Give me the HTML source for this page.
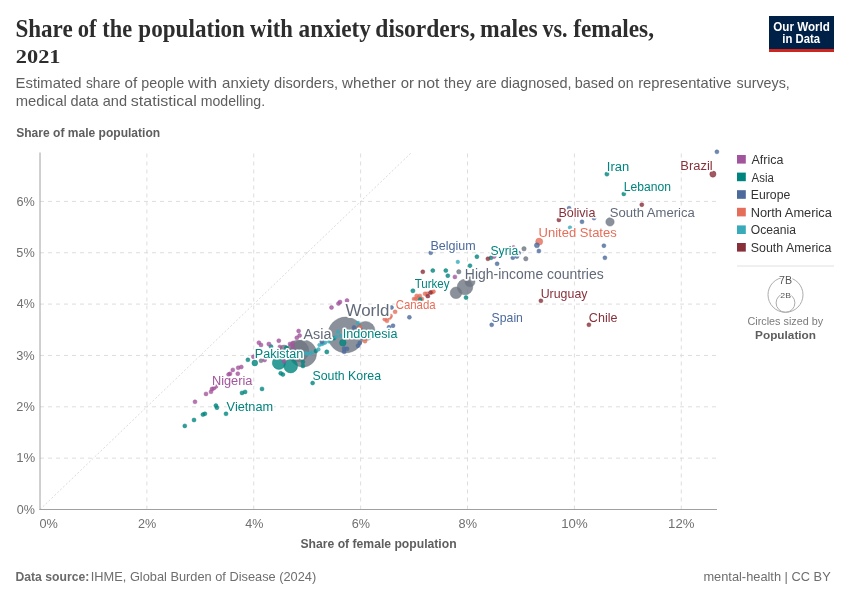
<!DOCTYPE html>
<html lang="en"><head><meta charset="utf-8"><title>Share of the population with anxiety disorders, males vs. females, 2021</title>
<style>
html,body{margin:0;padding:0;background:#fff;}
body{width:850px;height:600px;overflow:hidden;}
svg{display:block;}
svg text{white-space:pre;}
.halo text{paint-order:stroke;stroke:#fff;stroke-width:0.25em;stroke-linejoin:round;}
</style></head><body>
<svg width="850" height="600" viewBox="0 0 850 600">
<rect width="850" height="600" fill="#fff"/>
<rect x="769" y="16" width="65" height="36" fill="#002147"/><rect x="769" y="49" width="65" height="3" fill="#ce261e"/>
<text y="37.0" font-family='"Liberation Serif", serif' font-size="24.7" font-weight="bold" fill="#2d2d2d"><tspan id="title1_0" x="15.40" textLength="57.25" lengthAdjust="spacingAndGlyphs">Share</tspan> <tspan id="title1_1" x="77.66" textLength="18.80" lengthAdjust="spacingAndGlyphs">of</tspan> <tspan id="title1_2" x="102.29" textLength="29.79" lengthAdjust="spacingAndGlyphs">the</tspan> <tspan id="title1_3" x="138.37" textLength="106.59" lengthAdjust="spacingAndGlyphs">population</tspan> <tspan id="title1_4" x="250.02" textLength="42.83" lengthAdjust="spacingAndGlyphs">with</tspan> <tspan id="title1_5" x="298.57" textLength="72.38" lengthAdjust="spacingAndGlyphs">anxiety</tspan> <tspan id="title1_6" x="375.34" textLength="99.94" lengthAdjust="spacingAndGlyphs">disorders,</tspan> <tspan id="title1_7" x="480.02" textLength="57.67" lengthAdjust="spacingAndGlyphs">males</tspan> <tspan id="title1_8" x="542.55" textLength="25.03" lengthAdjust="spacingAndGlyphs">vs.</tspan> <tspan id="title1_9" x="573.15" textLength="80.85" lengthAdjust="spacingAndGlyphs">females,</tspan></text>
<text y="88" font-family='"Liberation Sans", sans-serif' font-size="14.5" font-weight="normal" fill="#5e5e5e"><tspan id="sub1_0" x="15.58" textLength="65.98" lengthAdjust="spacingAndGlyphs">Estimated</tspan> <tspan id="sub1_1" x="85.97" textLength="34.50" lengthAdjust="spacingAndGlyphs">share</tspan> <tspan id="sub1_2" x="124.53" textLength="12.67" lengthAdjust="spacingAndGlyphs">of</tspan> <tspan id="sub1_3" x="141.25" textLength="42.91" lengthAdjust="spacingAndGlyphs">people</tspan> <tspan id="sub1_4" x="188.11" textLength="29.09" lengthAdjust="spacingAndGlyphs">with</tspan> <tspan id="sub1_5" x="222.11" textLength="47.67" lengthAdjust="spacingAndGlyphs">anxiety</tspan> <tspan id="sub1_6" x="274.09" textLength="64.08" lengthAdjust="spacingAndGlyphs">disorders,</tspan> <tspan id="sub1_7" x="342.14" textLength="53.83" lengthAdjust="spacingAndGlyphs">whether</tspan> <tspan id="sub1_8" x="400.68" textLength="13.25" lengthAdjust="spacingAndGlyphs">or</tspan> <tspan id="sub1_9" x="417.44" textLength="22.10" lengthAdjust="spacingAndGlyphs">not</tspan> <tspan id="sub1_10" x="444.11" textLength="27.31" lengthAdjust="spacingAndGlyphs">they</tspan> <tspan id="sub1_11" x="475.96" textLength="20.77" lengthAdjust="spacingAndGlyphs">are</tspan> <tspan id="sub1_12" x="500.79" textLength="70.78" lengthAdjust="spacingAndGlyphs">diagnosed,</tspan> <tspan id="sub1_13" x="574.65" textLength="39.34" lengthAdjust="spacingAndGlyphs">based</tspan> <tspan id="sub1_14" x="617.83" textLength="15.85" lengthAdjust="spacingAndGlyphs">on</tspan> <tspan id="sub1_15" x="638.20" textLength="93.38" lengthAdjust="spacingAndGlyphs">representative</tspan> <tspan id="sub1_16" x="736.60" textLength="53.23" lengthAdjust="spacingAndGlyphs">surveys,</tspan></text>
<text y="106" font-family='"Liberation Sans", sans-serif' font-size="14.5" font-weight="normal" fill="#5e5e5e"><tspan id="sub2_0" x="15.69" textLength="51.00" lengthAdjust="spacingAndGlyphs">medical</tspan> <tspan id="sub2_1" x="70.44" textLength="28.26" lengthAdjust="spacingAndGlyphs">data</tspan> <tspan id="sub2_2" x="102.77" textLength="24.23" lengthAdjust="spacingAndGlyphs">and</tspan> <tspan id="sub2_3" x="130.81" textLength="66.05" lengthAdjust="spacingAndGlyphs">statistical</tspan> <tspan id="sub2_4" x="200.68" textLength="64.39" lengthAdjust="spacingAndGlyphs">modelling.</tspan></text>
<text id="title2" x="15.80" y="62.9" font-family='"Liberation Serif", serif' font-size="18.6" font-weight="bold" fill="#2d2d2d" textLength="44.66" lengthAdjust="spacingAndGlyphs">2021</text>
<text id="logo1" x="773.29" y="30.5" font-family='"Liberation Sans", sans-serif' font-size="12" font-weight="bold" fill="#fff" textLength="56.63" lengthAdjust="spacingAndGlyphs">Our World</text>
<text id="logo2" x="782.31" y="42.5" font-family='"Liberation Sans", sans-serif' font-size="12" font-weight="bold" fill="#fff" textLength="37.81" lengthAdjust="spacingAndGlyphs">in Data</text>
<text id="ylab" x="16.19" y="136.5" font-family='"Liberation Sans", sans-serif' font-size="12" font-weight="bold" fill="#5e5e5e" textLength="143.94" lengthAdjust="spacingAndGlyphs">Share of male population</text>
<text id="yt0" x="16.71" y="513.8" font-family='"Liberation Sans", sans-serif' font-size="12" font-weight="normal" fill="#707070" textLength="18.14" lengthAdjust="spacingAndGlyphs">0%</text>
<text id="yt1" x="16.19" y="462.4" font-family='"Liberation Sans", sans-serif' font-size="12" font-weight="normal" fill="#707070" textLength="19.04" lengthAdjust="spacingAndGlyphs">1%</text>
<text id="yt2" x="16.32" y="411.1" font-family='"Liberation Sans", sans-serif' font-size="12" font-weight="normal" fill="#707070" textLength="18.48" lengthAdjust="spacingAndGlyphs">2%</text>
<text id="yt3" x="16.25" y="359.8" font-family='"Liberation Sans", sans-serif' font-size="12" font-weight="normal" fill="#707070" textLength="18.50" lengthAdjust="spacingAndGlyphs">3%</text>
<text id="yt4" x="16.82" y="308.4" font-family='"Liberation Sans", sans-serif' font-size="12" font-weight="normal" fill="#707070" textLength="17.91" lengthAdjust="spacingAndGlyphs">4%</text>
<text id="yt5" x="16.38" y="257.1" font-family='"Liberation Sans", sans-serif' font-size="12" font-weight="normal" fill="#707070" textLength="18.35" lengthAdjust="spacingAndGlyphs">5%</text>
<text id="yt6" x="16.45" y="205.7" font-family='"Liberation Sans", sans-serif' font-size="12" font-weight="normal" fill="#707070" textLength="18.31" lengthAdjust="spacingAndGlyphs">6%</text>
<text id="xt0" x="39.46" y="527.6" font-family='"Liberation Sans", sans-serif' font-size="12" font-weight="normal" fill="#707070" textLength="18.39" lengthAdjust="spacingAndGlyphs">0%</text>
<text id="xt2" x="138.05" y="527.6" font-family='"Liberation Sans", sans-serif' font-size="12" font-weight="normal" fill="#707070" textLength="18.27" lengthAdjust="spacingAndGlyphs">2%</text>
<text id="xt4" x="245.16" y="527.6" font-family='"Liberation Sans", sans-serif' font-size="12" font-weight="normal" fill="#707070" textLength="18.13" lengthAdjust="spacingAndGlyphs">4%</text>
<text id="xt6" x="351.71" y="527.6" font-family='"Liberation Sans", sans-serif' font-size="12" font-weight="normal" fill="#707070" textLength="18.28" lengthAdjust="spacingAndGlyphs">6%</text>
<text id="xt8" x="458.58" y="527.6" font-family='"Liberation Sans", sans-serif' font-size="12" font-weight="normal" fill="#707070" textLength="18.41" lengthAdjust="spacingAndGlyphs">8%</text>
<text id="xt10" x="561.31" y="527.6" font-family='"Liberation Sans", sans-serif' font-size="12" font-weight="normal" fill="#707070" textLength="26.38" lengthAdjust="spacingAndGlyphs">10%</text>
<text id="xt12" x="668.11" y="527.6" font-family='"Liberation Sans", sans-serif' font-size="12" font-weight="normal" fill="#707070" textLength="26.33" lengthAdjust="spacingAndGlyphs">12%</text>
<text id="xlab" x="300.48" y="548.2" font-family='"Liberation Sans", sans-serif' font-size="12" font-weight="bold" fill="#5e5e5e" textLength="156.13" lengthAdjust="spacingAndGlyphs">Share of female population</text>
<g stroke="#dddddd" stroke-width="1" stroke-dasharray="4,4" fill="none">
<line x1="40" y1="458.15" x2="717" y2="458.15"/>
<line x1="40" y1="406.80" x2="717" y2="406.80"/>
<line x1="40" y1="355.45" x2="717" y2="355.45"/>
<line x1="40" y1="304.10" x2="717" y2="304.10"/>
<line x1="40" y1="252.75" x2="717" y2="252.75"/>
<line x1="40" y1="201.40" x2="717" y2="201.40"/>
<line x1="146.88" y1="509.5" x2="146.88" y2="152.5"/>
<line x1="253.76" y1="509.5" x2="253.76" y2="152.5"/>
<line x1="360.64" y1="509.5" x2="360.64" y2="152.5"/>
<line x1="467.52" y1="509.5" x2="467.52" y2="152.5"/>
<line x1="574.40" y1="509.5" x2="574.40" y2="152.5"/>
<line x1="681.28" y1="509.5" x2="681.28" y2="152.5"/>
</g>
<line x1="40" y1="509.5" x2="411.5" y2="152.5" stroke="#d0d0d0" stroke-width="0.8" stroke-dasharray="2,2"/>
<line x1="40" y1="152.5" x2="40" y2="510" stroke="#a0a0a0" stroke-width="1"/>
<line x1="39.5" y1="509.5" x2="717" y2="509.5" stroke="#a0a0a0" stroke-width="1"/>
<g stroke-width="0.5">
<circle cx="345.7" cy="335" r="17.9" fill="#6e7581" fill-opacity="0.8" stroke="#6e7581" stroke-opacity="0.9"/>
<circle cx="365.5" cy="331" r="9.6" fill="#6e7581" fill-opacity="0.8" stroke="#6e7581" stroke-opacity="0.9"/>
<circle cx="303" cy="353.5" r="13.6" fill="#6e7581" fill-opacity="0.8" stroke="#6e7581" stroke-opacity="0.9"/>
<circle cx="298" cy="351" r="10.8" fill="#6e7581" fill-opacity="0.8" stroke="#6e7581" stroke-opacity="0.9"/>
<circle cx="284" cy="349.8" r="4.7" fill="#6e7581" fill-opacity="0.8" stroke="#6e7581" stroke-opacity="0.9"/>
<circle cx="465" cy="287" r="7.8" fill="#6e7581" fill-opacity="0.8" stroke="#6e7581" stroke-opacity="0.9"/>
<circle cx="456" cy="292.8" r="5.8" fill="#6e7581" fill-opacity="0.8" stroke="#6e7581" stroke-opacity="0.9"/>
<circle cx="470" cy="281.8" r="5.0" fill="#6e7581" fill-opacity="0.8" stroke="#6e7581" stroke-opacity="0.9"/>
<circle cx="610" cy="221.9" r="4.2" fill="#6e7581" fill-opacity="0.8" stroke="#6e7581" stroke-opacity="0.9"/>
<circle cx="278.9" cy="362.8" r="6.6" fill="#00847e" fill-opacity="0.8" stroke="#00847e" stroke-opacity="0.9"/>
<circle cx="290.7" cy="366" r="6.9" fill="#00847e" fill-opacity="0.8" stroke="#00847e" stroke-opacity="0.9"/>
<circle cx="342.8" cy="342.8" r="3.3" fill="#00847e" fill-opacity="0.8" stroke="#00847e" stroke-opacity="0.9"/>
<circle cx="254.8" cy="363" r="2.9" fill="#00847e" fill-opacity="0.8" stroke="#00847e" stroke-opacity="0.9"/>
<circle cx="539.2" cy="241.6" r="3.5" fill="#e56e5a" fill-opacity="0.8" stroke="#e56e5a" stroke-opacity="0.9"/>
<circle cx="712.9" cy="174.1" r="3.1" fill="#883039" fill-opacity="0.8" stroke="#883039" stroke-opacity="0.9"/>
<circle cx="536.9" cy="245.3" r="2.5" fill="#4c6a9c" fill-opacity="0.8" stroke="#4c6a9c" stroke-opacity="0.9"/>
<circle cx="458.8" cy="271.8" r="2.2" fill="#6e7581" fill-opacity="0.8" stroke="#6e7581" stroke-opacity="0.9"/>
<circle cx="524" cy="248.8" r="2.2" fill="#6e7581" fill-opacity="0.8" stroke="#6e7581" stroke-opacity="0.9"/>
<circle cx="525.8" cy="258.8" r="2.2" fill="#6e7581" fill-opacity="0.8" stroke="#6e7581" stroke-opacity="0.9"/>
<circle cx="261" cy="360.8" r="2.0" fill="#6e7581" fill-opacity="0.8" stroke="#6e7581" stroke-opacity="0.9"/>
<circle cx="184.8" cy="425.9" r="2.0" fill="#00847e" fill-opacity="0.8" stroke="#00847e" stroke-opacity="0.9"/>
<circle cx="194" cy="420" r="2.0" fill="#00847e" fill-opacity="0.8" stroke="#00847e" stroke-opacity="0.9"/>
<circle cx="202.9" cy="414.6" r="2.0" fill="#00847e" fill-opacity="0.8" stroke="#00847e" stroke-opacity="0.9"/>
<circle cx="204.9" cy="413.8" r="2.0" fill="#00847e" fill-opacity="0.8" stroke="#00847e" stroke-opacity="0.9"/>
<circle cx="215.9" cy="405.6" r="2.0" fill="#00847e" fill-opacity="0.8" stroke="#00847e" stroke-opacity="0.9"/>
<circle cx="216.9" cy="407.7" r="2.0" fill="#00847e" fill-opacity="0.8" stroke="#00847e" stroke-opacity="0.9"/>
<circle cx="226" cy="413.8" r="2.0" fill="#00847e" fill-opacity="0.8" stroke="#00847e" stroke-opacity="0.9"/>
<circle cx="242" cy="392.9" r="2.0" fill="#00847e" fill-opacity="0.8" stroke="#00847e" stroke-opacity="0.9"/>
<circle cx="245.1" cy="391.9" r="2.0" fill="#00847e" fill-opacity="0.8" stroke="#00847e" stroke-opacity="0.9"/>
<circle cx="262" cy="388.9" r="2.0" fill="#00847e" fill-opacity="0.8" stroke="#00847e" stroke-opacity="0.9"/>
<circle cx="280.7" cy="373.3" r="2.0" fill="#00847e" fill-opacity="0.8" stroke="#00847e" stroke-opacity="0.9"/>
<circle cx="282.9" cy="374.5" r="2.0" fill="#00847e" fill-opacity="0.8" stroke="#00847e" stroke-opacity="0.9"/>
<circle cx="247.9" cy="359.8" r="2.0" fill="#00847e" fill-opacity="0.8" stroke="#00847e" stroke-opacity="0.9"/>
<circle cx="312.6" cy="383" r="2.0" fill="#00847e" fill-opacity="0.8" stroke="#00847e" stroke-opacity="0.9"/>
<circle cx="326.8" cy="351.9" r="2.1" fill="#00847e" fill-opacity="0.8" stroke="#00847e" stroke-opacity="0.9"/>
<circle cx="412.9" cy="290.8" r="2.1" fill="#00847e" fill-opacity="0.8" stroke="#00847e" stroke-opacity="0.9"/>
<circle cx="432.8" cy="270.6" r="2.0" fill="#00847e" fill-opacity="0.8" stroke="#00847e" stroke-opacity="0.9"/>
<circle cx="445.8" cy="270.6" r="2.0" fill="#00847e" fill-opacity="0.8" stroke="#00847e" stroke-opacity="0.9"/>
<circle cx="447.8" cy="275.7" r="2.0" fill="#00847e" fill-opacity="0.8" stroke="#00847e" stroke-opacity="0.9"/>
<circle cx="466" cy="297.6" r="2.0" fill="#00847e" fill-opacity="0.8" stroke="#00847e" stroke-opacity="0.9"/>
<circle cx="470" cy="265.7" r="2.0" fill="#00847e" fill-opacity="0.8" stroke="#00847e" stroke-opacity="0.9"/>
<circle cx="476.9" cy="256.7" r="2.0" fill="#00847e" fill-opacity="0.8" stroke="#00847e" stroke-opacity="0.9"/>
<circle cx="491" cy="257.8" r="2.0" fill="#00847e" fill-opacity="0.8" stroke="#00847e" stroke-opacity="0.9"/>
<circle cx="606.9" cy="174.1" r="2.1" fill="#00847e" fill-opacity="0.8" stroke="#00847e" stroke-opacity="0.9"/>
<circle cx="623.8" cy="193.9" r="2.0" fill="#00847e" fill-opacity="0.8" stroke="#00847e" stroke-opacity="0.9"/>
<circle cx="302.9" cy="362" r="2.0" fill="#00847e" fill-opacity="0.8" stroke="#00847e" stroke-opacity="0.9"/>
<circle cx="302.9" cy="366" r="2.0" fill="#00847e" fill-opacity="0.8" stroke="#00847e" stroke-opacity="0.9"/>
<circle cx="315.9" cy="350.9" r="2.0" fill="#00847e" fill-opacity="0.8" stroke="#00847e" stroke-opacity="0.9"/>
<circle cx="271" cy="346.6" r="2.0" fill="#00847e" fill-opacity="0.8" stroke="#00847e" stroke-opacity="0.9"/>
<circle cx="286.4" cy="347.8" r="2.0" fill="#00847e" fill-opacity="0.8" stroke="#00847e" stroke-opacity="0.9"/>
<circle cx="333.8" cy="338.2" r="2.0" fill="#00847e" fill-opacity="0.8" stroke="#00847e" stroke-opacity="0.9"/>
<circle cx="195" cy="401.8" r="2.0" fill="#a2559c" fill-opacity="0.8" stroke="#a2559c" stroke-opacity="0.9"/>
<circle cx="206" cy="393.9" r="2.0" fill="#a2559c" fill-opacity="0.8" stroke="#a2559c" stroke-opacity="0.9"/>
<circle cx="211" cy="391.8" r="2.0" fill="#a2559c" fill-opacity="0.8" stroke="#a2559c" stroke-opacity="0.9"/>
<circle cx="212" cy="389" r="2.0" fill="#a2559c" fill-opacity="0.8" stroke="#a2559c" stroke-opacity="0.9"/>
<circle cx="213.8" cy="388.2" r="2.0" fill="#a2559c" fill-opacity="0.8" stroke="#a2559c" stroke-opacity="0.9"/>
<circle cx="215.9" cy="386.5" r="2.0" fill="#a2559c" fill-opacity="0.8" stroke="#a2559c" stroke-opacity="0.9"/>
<circle cx="228.6" cy="374.5" r="2.0" fill="#a2559c" fill-opacity="0.8" stroke="#a2559c" stroke-opacity="0.9"/>
<circle cx="230" cy="373.8" r="2.0" fill="#a2559c" fill-opacity="0.8" stroke="#a2559c" stroke-opacity="0.9"/>
<circle cx="232.8" cy="369.9" r="2.0" fill="#a2559c" fill-opacity="0.8" stroke="#a2559c" stroke-opacity="0.9"/>
<circle cx="237.8" cy="373.7" r="2.0" fill="#a2559c" fill-opacity="0.8" stroke="#a2559c" stroke-opacity="0.9"/>
<circle cx="238.2" cy="367.8" r="2.0" fill="#a2559c" fill-opacity="0.8" stroke="#a2559c" stroke-opacity="0.9"/>
<circle cx="241.3" cy="367" r="2.0" fill="#a2559c" fill-opacity="0.8" stroke="#a2559c" stroke-opacity="0.9"/>
<circle cx="264.6" cy="360" r="2.0" fill="#a2559c" fill-opacity="0.8" stroke="#a2559c" stroke-opacity="0.9"/>
<circle cx="253.4" cy="356.8" r="2.0" fill="#a2559c" fill-opacity="0.8" stroke="#a2559c" stroke-opacity="0.9"/>
<circle cx="258.9" cy="342.7" r="2.0" fill="#a2559c" fill-opacity="0.8" stroke="#a2559c" stroke-opacity="0.9"/>
<circle cx="261" cy="345" r="2.0" fill="#a2559c" fill-opacity="0.8" stroke="#a2559c" stroke-opacity="0.9"/>
<circle cx="268.9" cy="344.1" r="2.1" fill="#a2559c" fill-opacity="0.8" stroke="#a2559c" stroke-opacity="0.9"/>
<circle cx="278.8" cy="340.7" r="2.0" fill="#a2559c" fill-opacity="0.8" stroke="#a2559c" stroke-opacity="0.9"/>
<circle cx="279.9" cy="346.9" r="2.0" fill="#a2559c" fill-opacity="0.8" stroke="#a2559c" stroke-opacity="0.9"/>
<circle cx="290" cy="343.9" r="2.0" fill="#a2559c" fill-opacity="0.8" stroke="#a2559c" stroke-opacity="0.9"/>
<circle cx="292.9" cy="343" r="2.0" fill="#a2559c" fill-opacity="0.8" stroke="#a2559c" stroke-opacity="0.9"/>
<circle cx="292.9" cy="346.9" r="2.0" fill="#a2559c" fill-opacity="0.8" stroke="#a2559c" stroke-opacity="0.9"/>
<circle cx="296.8" cy="337.8" r="2.0" fill="#a2559c" fill-opacity="0.8" stroke="#a2559c" stroke-opacity="0.9"/>
<circle cx="284.1" cy="361.3" r="2.0" fill="#a2559c" fill-opacity="0.8" stroke="#a2559c" stroke-opacity="0.9"/>
<circle cx="298.6" cy="331" r="2.0" fill="#a2559c" fill-opacity="0.8" stroke="#a2559c" stroke-opacity="0.9"/>
<circle cx="299.6" cy="335.6" r="2.0" fill="#a2559c" fill-opacity="0.8" stroke="#a2559c" stroke-opacity="0.9"/>
<circle cx="331.5" cy="307.5" r="2.0" fill="#a2559c" fill-opacity="0.8" stroke="#a2559c" stroke-opacity="0.9"/>
<circle cx="338.5" cy="303.5" r="2.0" fill="#a2559c" fill-opacity="0.8" stroke="#a2559c" stroke-opacity="0.9"/>
<circle cx="340" cy="302" r="2.0" fill="#a2559c" fill-opacity="0.8" stroke="#a2559c" stroke-opacity="0.9"/>
<circle cx="347" cy="300.5" r="2.0" fill="#a2559c" fill-opacity="0.8" stroke="#a2559c" stroke-opacity="0.9"/>
<circle cx="454.9" cy="276.9" r="2.0" fill="#a2559c" fill-opacity="0.8" stroke="#a2559c" stroke-opacity="0.9"/>
<circle cx="494.1" cy="256.6" r="2.0" fill="#a2559c" fill-opacity="0.8" stroke="#a2559c" stroke-opacity="0.9"/>
<circle cx="513.5" cy="246.8" r="1.4" fill="#a2559c" fill-opacity="0.8" stroke="#a2559c" stroke-opacity="0.9"/>
<circle cx="457.8" cy="261.9" r="1.8" fill="#38aaba" fill-opacity="0.8" stroke="#38aaba" stroke-opacity="0.9"/>
<circle cx="570" cy="227.5" r="1.8" fill="#38aaba" fill-opacity="0.8" stroke="#38aaba" stroke-opacity="0.9"/>
<circle cx="358" cy="322.9" r="1.8" fill="#38aaba" fill-opacity="0.8" stroke="#38aaba" stroke-opacity="0.9"/>
<circle cx="338" cy="331.7" r="1.8" fill="#38aaba" fill-opacity="0.8" stroke="#38aaba" stroke-opacity="0.9"/>
<circle cx="335.9" cy="336.7" r="1.8" fill="#38aaba" fill-opacity="0.8" stroke="#38aaba" stroke-opacity="0.9"/>
<circle cx="340.7" cy="335.8" r="1.8" fill="#38aaba" fill-opacity="0.8" stroke="#38aaba" stroke-opacity="0.9"/>
<circle cx="305.9" cy="353.2" r="1.8" fill="#38aaba" fill-opacity="0.8" stroke="#38aaba" stroke-opacity="0.9"/>
<circle cx="307.6" cy="353.8" r="1.8" fill="#38aaba" fill-opacity="0.8" stroke="#38aaba" stroke-opacity="0.9"/>
<circle cx="310.3" cy="353.2" r="1.8" fill="#38aaba" fill-opacity="0.8" stroke="#38aaba" stroke-opacity="0.9"/>
<circle cx="311.8" cy="352.6" r="1.8" fill="#38aaba" fill-opacity="0.8" stroke="#38aaba" stroke-opacity="0.9"/>
<circle cx="318.5" cy="349.4" r="1.8" fill="#38aaba" fill-opacity="0.8" stroke="#38aaba" stroke-opacity="0.9"/>
<circle cx="319.4" cy="345" r="1.8" fill="#38aaba" fill-opacity="0.8" stroke="#38aaba" stroke-opacity="0.9"/>
<circle cx="321.8" cy="344.1" r="1.8" fill="#38aaba" fill-opacity="0.8" stroke="#38aaba" stroke-opacity="0.9"/>
<circle cx="323.2" cy="343.5" r="1.8" fill="#38aaba" fill-opacity="0.8" stroke="#38aaba" stroke-opacity="0.9"/>
<circle cx="325.3" cy="342.6" r="1.8" fill="#38aaba" fill-opacity="0.8" stroke="#38aaba" stroke-opacity="0.9"/>
<circle cx="329.1" cy="341.5" r="1.8" fill="#38aaba" fill-opacity="0.8" stroke="#38aaba" stroke-opacity="0.9"/>
<circle cx="430.7" cy="252.8" r="2.0" fill="#4c6a9c" fill-opacity="0.8" stroke="#4c6a9c" stroke-opacity="0.9"/>
<circle cx="497.1" cy="263.8" r="2.0" fill="#4c6a9c" fill-opacity="0.8" stroke="#4c6a9c" stroke-opacity="0.9"/>
<circle cx="512.8" cy="257.7" r="2.0" fill="#4c6a9c" fill-opacity="0.8" stroke="#4c6a9c" stroke-opacity="0.9"/>
<circle cx="516.9" cy="256.6" r="2.0" fill="#4c6a9c" fill-opacity="0.8" stroke="#4c6a9c" stroke-opacity="0.9"/>
<circle cx="518.6" cy="253" r="2.0" fill="#4c6a9c" fill-opacity="0.8" stroke="#4c6a9c" stroke-opacity="0.9"/>
<circle cx="538.9" cy="251" r="2.0" fill="#4c6a9c" fill-opacity="0.8" stroke="#4c6a9c" stroke-opacity="0.9"/>
<circle cx="569.1" cy="208.2" r="2.0" fill="#4c6a9c" fill-opacity="0.8" stroke="#4c6a9c" stroke-opacity="0.9"/>
<circle cx="582" cy="221.8" r="2.0" fill="#4c6a9c" fill-opacity="0.8" stroke="#4c6a9c" stroke-opacity="0.9"/>
<circle cx="594" cy="218.1" r="2.0" fill="#4c6a9c" fill-opacity="0.8" stroke="#4c6a9c" stroke-opacity="0.9"/>
<circle cx="603.9" cy="245.7" r="2.0" fill="#4c6a9c" fill-opacity="0.8" stroke="#4c6a9c" stroke-opacity="0.9"/>
<circle cx="604.9" cy="257.8" r="2.0" fill="#4c6a9c" fill-opacity="0.8" stroke="#4c6a9c" stroke-opacity="0.9"/>
<circle cx="716.9" cy="151.8" r="2.0" fill="#4c6a9c" fill-opacity="0.8" stroke="#4c6a9c" stroke-opacity="0.9"/>
<circle cx="491.7" cy="324.8" r="2.0" fill="#4c6a9c" fill-opacity="0.8" stroke="#4c6a9c" stroke-opacity="0.9"/>
<circle cx="409.4" cy="317.3" r="2.0" fill="#4c6a9c" fill-opacity="0.8" stroke="#4c6a9c" stroke-opacity="0.9"/>
<circle cx="393" cy="325.7" r="2.0" fill="#4c6a9c" fill-opacity="0.8" stroke="#4c6a9c" stroke-opacity="0.9"/>
<circle cx="389" cy="327.3" r="2.0" fill="#4c6a9c" fill-opacity="0.8" stroke="#4c6a9c" stroke-opacity="0.9"/>
<circle cx="354" cy="327.4" r="2.0" fill="#4c6a9c" fill-opacity="0.8" stroke="#4c6a9c" stroke-opacity="0.9"/>
<circle cx="359.7" cy="343" r="2.0" fill="#4c6a9c" fill-opacity="0.8" stroke="#4c6a9c" stroke-opacity="0.9"/>
<circle cx="358" cy="345.7" r="2.0" fill="#4c6a9c" fill-opacity="0.8" stroke="#4c6a9c" stroke-opacity="0.9"/>
<circle cx="344.1" cy="348.6" r="2.0" fill="#4c6a9c" fill-opacity="0.8" stroke="#4c6a9c" stroke-opacity="0.9"/>
<circle cx="347.1" cy="348.8" r="2.0" fill="#4c6a9c" fill-opacity="0.8" stroke="#4c6a9c" stroke-opacity="0.9"/>
<circle cx="344.1" cy="351.8" r="2.0" fill="#4c6a9c" fill-opacity="0.8" stroke="#4c6a9c" stroke-opacity="0.9"/>
<circle cx="321.8" cy="341.7" r="2.0" fill="#4c6a9c" fill-opacity="0.8" stroke="#4c6a9c" stroke-opacity="0.9"/>
<circle cx="391.5" cy="307.5" r="2.0" fill="#4c6a9c" fill-opacity="0.8" stroke="#4c6a9c" stroke-opacity="0.9"/>
<circle cx="416.6" cy="295.9" r="2.0" fill="#e56e5a" fill-opacity="0.8" stroke="#e56e5a" stroke-opacity="0.9"/>
<circle cx="419.8" cy="295.9" r="2.0" fill="#e56e5a" fill-opacity="0.8" stroke="#e56e5a" stroke-opacity="0.9"/>
<circle cx="418.2" cy="298" r="2.0" fill="#e56e5a" fill-opacity="0.8" stroke="#e56e5a" stroke-opacity="0.9"/>
<circle cx="414" cy="299" r="2.0" fill="#e56e5a" fill-opacity="0.8" stroke="#e56e5a" stroke-opacity="0.9"/>
<circle cx="415.5" cy="299.6" r="2.0" fill="#e56e5a" fill-opacity="0.8" stroke="#e56e5a" stroke-opacity="0.9"/>
<circle cx="421.9" cy="299" r="2.0" fill="#e56e5a" fill-opacity="0.8" stroke="#e56e5a" stroke-opacity="0.9"/>
<circle cx="425" cy="293.8" r="2.0" fill="#e56e5a" fill-opacity="0.8" stroke="#e56e5a" stroke-opacity="0.9"/>
<circle cx="427.2" cy="293.8" r="2.0" fill="#e56e5a" fill-opacity="0.8" stroke="#e56e5a" stroke-opacity="0.9"/>
<circle cx="433.5" cy="291.6" r="2.0" fill="#e56e5a" fill-opacity="0.8" stroke="#e56e5a" stroke-opacity="0.9"/>
<circle cx="432" cy="292.2" r="2.0" fill="#e56e5a" fill-opacity="0.8" stroke="#e56e5a" stroke-opacity="0.9"/>
<circle cx="395.1" cy="311.8" r="2.0" fill="#e56e5a" fill-opacity="0.8" stroke="#e56e5a" stroke-opacity="0.9"/>
<circle cx="390.6" cy="316" r="2.0" fill="#e56e5a" fill-opacity="0.8" stroke="#e56e5a" stroke-opacity="0.9"/>
<circle cx="389.6" cy="317.6" r="2.0" fill="#e56e5a" fill-opacity="0.8" stroke="#e56e5a" stroke-opacity="0.9"/>
<circle cx="387" cy="320.8" r="2.0" fill="#e56e5a" fill-opacity="0.8" stroke="#e56e5a" stroke-opacity="0.9"/>
<circle cx="384.8" cy="319.2" r="2.0" fill="#e56e5a" fill-opacity="0.8" stroke="#e56e5a" stroke-opacity="0.9"/>
<circle cx="359.9" cy="327.2" r="2.0" fill="#e56e5a" fill-opacity="0.8" stroke="#e56e5a" stroke-opacity="0.9"/>
<circle cx="365" cy="341.2" r="2.0" fill="#e56e5a" fill-opacity="0.8" stroke="#e56e5a" stroke-opacity="0.9"/>
<circle cx="641.8" cy="204.7" r="2.0" fill="#883039" fill-opacity="0.8" stroke="#883039" stroke-opacity="0.9"/>
<circle cx="558.9" cy="219.9" r="2.0" fill="#883039" fill-opacity="0.8" stroke="#883039" stroke-opacity="0.9"/>
<circle cx="487.9" cy="258.8" r="2.0" fill="#883039" fill-opacity="0.8" stroke="#883039" stroke-opacity="0.9"/>
<circle cx="422.8" cy="271.8" r="2.0" fill="#883039" fill-opacity="0.8" stroke="#883039" stroke-opacity="0.9"/>
<circle cx="430.5" cy="292.6" r="2.0" fill="#883039" fill-opacity="0.8" stroke="#883039" stroke-opacity="0.9"/>
<circle cx="427.8" cy="296.3" r="2.0" fill="#883039" fill-opacity="0.8" stroke="#883039" stroke-opacity="0.9"/>
<circle cx="540.9" cy="300.8" r="2.0" fill="#883039" fill-opacity="0.8" stroke="#883039" stroke-opacity="0.9"/>
<circle cx="588.9" cy="324.8" r="2.0" fill="#883039" fill-opacity="0.8" stroke="#883039" stroke-opacity="0.9"/>
<circle cx="420.1" cy="299.4" r="2.0" fill="#00847e" fill-opacity="0.8" stroke="#00847e" stroke-opacity="0.9"/>
</g>
<g class="halo">
<text id="lab_Iran" x="606.89" y="170.6" font-family='"Liberation Sans", sans-serif' font-size="12.3" font-weight="normal" fill="#00847e" textLength="22.36" lengthAdjust="spacingAndGlyphs">Iran</text>
<text id="lab_Lebanon" x="623.78" y="191.2" font-family='"Liberation Sans", sans-serif' font-size="12.3" font-weight="normal" fill="#00847e" textLength="47.14" lengthAdjust="spacingAndGlyphs">Lebanon</text>
<text id="lab_Brazil" x="680.37" y="169.7" font-family='"Liberation Sans", sans-serif' font-size="12.3" font-weight="normal" fill="#883039" textLength="32.33" lengthAdjust="spacingAndGlyphs">Brazil</text>
<text id="lab_South_America" x="609.78" y="216.8" font-family='"Liberation Sans", sans-serif' font-size="12.5" font-weight="normal" fill="#626a79" textLength="85.07" lengthAdjust="spacingAndGlyphs">South America</text>
<text id="lab_Bolivia" x="558.45" y="217.0" font-family='"Liberation Sans", sans-serif' font-size="12.1" font-weight="normal" fill="#883039" textLength="36.96" lengthAdjust="spacingAndGlyphs">Bolivia</text>
<text id="lab_United_States" x="538.57" y="236.9" font-family='"Liberation Sans", sans-serif' font-size="12.3" font-weight="normal" fill="#e56e5a" textLength="78.19" lengthAdjust="spacingAndGlyphs">United States</text>
<text id="lab_Belgium" x="430.46" y="249.8" font-family='"Liberation Sans", sans-serif' font-size="12.1" font-weight="normal" fill="#4c6a9c" textLength="45.31" lengthAdjust="spacingAndGlyphs">Belgium</text>
<text id="lab_Syria" x="490.45" y="254.6" font-family='"Liberation Sans", sans-serif' font-size="12.3" font-weight="normal" fill="#00847e" textLength="27.73" lengthAdjust="spacingAndGlyphs">Syria</text>
<text id="lab_Turkey" x="414.74" y="288.1" font-family='"Liberation Sans", sans-serif' font-size="12.3" font-weight="normal" fill="#00847e" textLength="34.81" lengthAdjust="spacingAndGlyphs">Turkey</text>
<text id="lab_High_income_countries" x="464.84" y="278.9" font-family='"Liberation Sans", sans-serif' font-size="14" font-weight="normal" fill="#626a79" textLength="138.81" lengthAdjust="spacingAndGlyphs">High-income countries</text>
<text id="lab_Canada" x="395.63" y="308.6" font-family='"Liberation Sans", sans-serif' font-size="12.1" font-weight="normal" fill="#e56e5a" textLength="40.06" lengthAdjust="spacingAndGlyphs">Canada</text>
<text id="lab_World" x="345.51" y="315.6" font-family='"Liberation Sans", sans-serif' font-size="16.2" font-weight="normal" fill="#626a79" textLength="43.91" lengthAdjust="spacingAndGlyphs">World</text>
<text id="lab_Indonesia" x="342.84" y="338.2" font-family='"Liberation Sans", sans-serif' font-size="12.3" font-weight="normal" fill="#00847e" textLength="54.56" lengthAdjust="spacingAndGlyphs">Indonesia</text>
<text id="lab_Asia" x="303.53" y="338.6" font-family='"Liberation Sans", sans-serif' font-size="14" font-weight="normal" fill="#626a79" textLength="27.90" lengthAdjust="spacingAndGlyphs">Asia</text>
<text id="lab_Pakistan" x="254.85" y="358.4" font-family='"Liberation Sans", sans-serif' font-size="12.3" font-weight="normal" fill="#00847e" textLength="48.36" lengthAdjust="spacingAndGlyphs">Pakistan</text>
<text id="lab_South_Korea" x="312.40" y="380" font-family='"Liberation Sans", sans-serif' font-size="12.1" font-weight="normal" fill="#00847e" textLength="68.72" lengthAdjust="spacingAndGlyphs">South Korea</text>
<text id="lab_Nigeria" x="211.92" y="384.7" font-family='"Liberation Sans", sans-serif' font-size="12.3" font-weight="normal" fill="#a2559c" textLength="40.47" lengthAdjust="spacingAndGlyphs">Nigeria</text>
<text id="lab_Vietnam" x="226.63" y="410.5" font-family='"Liberation Sans", sans-serif' font-size="12.1" font-weight="normal" fill="#00847e" textLength="46.54" lengthAdjust="spacingAndGlyphs">Vietnam</text>
<text id="lab_Uruguay" x="540.68" y="297.9" font-family='"Liberation Sans", sans-serif' font-size="12.1" font-weight="normal" fill="#883039" textLength="46.80" lengthAdjust="spacingAndGlyphs">Uruguay</text>
<text id="lab_Spain" x="491.61" y="321.9" font-family='"Liberation Sans", sans-serif' font-size="12.1" font-weight="normal" fill="#4c6a9c" textLength="31.32" lengthAdjust="spacingAndGlyphs">Spain</text>
<text id="lab_Chile" x="588.87" y="321.9" font-family='"Liberation Sans", sans-serif' font-size="12.1" font-weight="normal" fill="#883039" textLength="28.56" lengthAdjust="spacingAndGlyphs">Chile</text>
</g>
<rect x="737" y="155.0" width="8.8" height="8.6" fill="#a2559c"/>
<rect x="737" y="172.6" width="8.8" height="8.6" fill="#00847e"/>
<rect x="737" y="190.2" width="8.8" height="8.6" fill="#4c6a9c"/>
<rect x="737" y="207.8" width="8.8" height="8.6" fill="#e56e5a"/>
<rect x="737" y="225.4" width="8.8" height="8.6" fill="#38aaba"/>
<rect x="737" y="243.0" width="8.8" height="8.6" fill="#883039"/>
<text id="leg_af" x="751.57" y="164.0" font-family='"Liberation Sans", sans-serif' font-size="12.3" font-weight="normal" fill="#333" textLength="31.84" lengthAdjust="spacingAndGlyphs">Africa</text>
<text id="leg_as_" x="751.58" y="181.6" font-family='"Liberation Sans", sans-serif' font-size="12.3" font-weight="normal" fill="#333" textLength="22.20" lengthAdjust="spacingAndGlyphs">Asia</text>
<text id="leg_eu" x="750.80" y="199.2" font-family='"Liberation Sans", sans-serif' font-size="12.3" font-weight="normal" fill="#333" textLength="39.44" lengthAdjust="spacingAndGlyphs">Europe</text>
<text id="leg_na" x="750.68" y="216.8" font-family='"Liberation Sans", sans-serif' font-size="12.3" font-weight="normal" fill="#333" textLength="81.14" lengthAdjust="spacingAndGlyphs">North America</text>
<text id="leg_oc" x="750.85" y="234.4" font-family='"Liberation Sans", sans-serif' font-size="12.3" font-weight="normal" fill="#333" textLength="45.07" lengthAdjust="spacingAndGlyphs">Oceania</text>
<text id="leg_sa" x="750.77" y="252.0" font-family='"Liberation Sans", sans-serif' font-size="12.3" font-weight="normal" fill="#333" textLength="80.66" lengthAdjust="spacingAndGlyphs">South America</text>
<line x1="737" y1="266" x2="834" y2="266" stroke="#e0e0e0" stroke-width="1"/>
<circle cx="785.5" cy="294.8" r="17.5" fill="none" stroke="#acacac" stroke-width="1"/>
<circle cx="785.5" cy="302.9" r="9.4" fill="none" stroke="#acacac" stroke-width="1"/>
<g class="halo">
<text id="l7b" x="779.06" y="283.6" font-family='"Liberation Sans", sans-serif' font-size="10" font-weight="normal" fill="#555" textLength="13.00" lengthAdjust="spacingAndGlyphs">7B</text>
<text id="l2b" x="780.31" y="298.3" font-family='"Liberation Sans", sans-serif' font-size="8" font-weight="normal" fill="#555" textLength="10.65" lengthAdjust="spacingAndGlyphs">2B</text>
</g>
<text id="csb" x="747.50" y="324.6" font-family='"Liberation Sans", sans-serif' font-size="11" font-weight="normal" fill="#7b7b7b" textLength="75.67" lengthAdjust="spacingAndGlyphs">Circles sized by</text>
<text id="pop" x="755.10" y="338.6" font-family='"Liberation Sans", sans-serif' font-size="11" font-weight="bold" fill="#5e5e5e" textLength="60.90" lengthAdjust="spacingAndGlyphs">Population</text>
<text id="ft1" x="15.49" y="580.6" font-family='"Liberation Sans", sans-serif' font-size="13" font-weight="bold" fill="#6a6a6a" textLength="73.75" lengthAdjust="spacingAndGlyphs">Data source:</text>
<text id="ft2" x="90.80" y="580.6" font-family='"Liberation Sans", sans-serif' font-size="13" font-weight="normal" fill="#6e6e6e" textLength="225.38" lengthAdjust="spacingAndGlyphs">IHME, Global Burden of Disease (2024)</text>
<text id="ft3" x="703.41" y="580.6" font-family='"Liberation Sans", sans-serif' font-size="13" font-weight="normal" fill="#6e6e6e" textLength="127.28" lengthAdjust="spacingAndGlyphs">mental-health | CC BY</text>
</svg></body></html>
